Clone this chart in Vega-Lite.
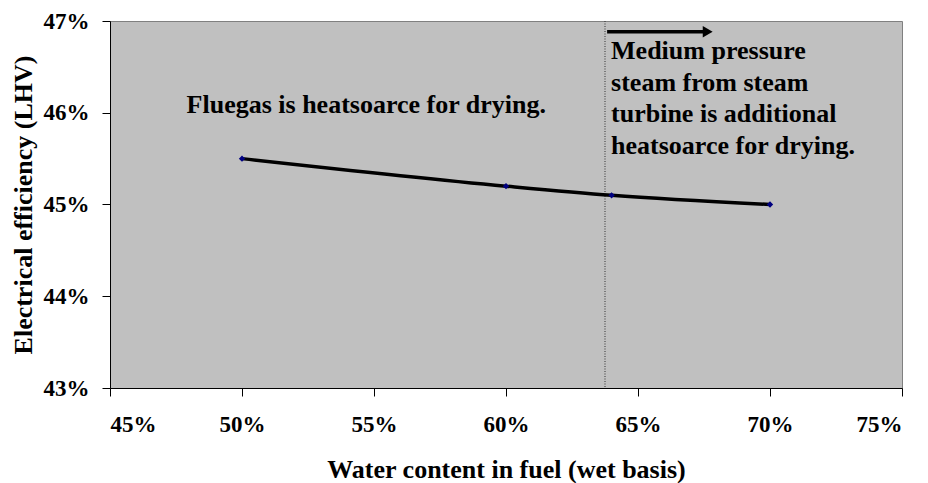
{
  "$schema": "https://vega.github.io/schema/vega-lite/v6.json",
  "width": 792,
  "height": 367,
  "autosize": {"type": "none"},
  "padding": {"left": 110, "top": 21, "right": 26, "bottom": 95},
  "background": "white",
  "config": {
    "view": {"fill": "#C0C0C0", "stroke": "#808080", "strokeWidth": 1},
    "font": "Liberation Serif",
    "axis": {
      "labelFont": "Liberation Serif",
      "labelFontWeight": "bold",
      "labelFontSize": 23,
      "labelColor": "black",
      "titleFont": "Liberation Serif",
      "titleFontWeight": "bold",
      "titleFontSize": 26,
      "titleColor": "black",
      "domainColor": "black",
      "domainWidth": 1,
      "tickColor": "black",
      "tickSize": 8,
      "grid": false
    }
  },
  "datasets": {
    "curve": [
      {"water": 0.50, "eff": 0.455},
      {"water": 0.60, "eff": 0.452},
      {"water": 0.64, "eff": 0.451},
      {"water": 0.70, "eff": 0.450}
    ],
    "notes": [
      {"x": 0.4790, "y": 0.45994, "label": "Fluegas is heatsoarce for drying."},
      {"x": 0.6398, "y": 0.465826, "label": "Medium pressure"},
      {"x": 0.6398, "y": 0.462392, "label": "steam from steam"},
      {"x": 0.6398, "y": 0.458948, "label": "turbine is additional"},
      {"x": 0.6398, "y": 0.455504, "label": "heatsoarce for drying."}
    ],
    "divider": [{"x": 0.6375}],
    "arrow": [{"x": 0.6383, "x2": 0.675, "y": 0.46883, "tip": 0.6764}]
  },
  "layer": [
    {
      "data": {"name": "divider"},
      "mark": {"type": "rule", "color": "#303030", "strokeWidth": 1, "strokeDash": [1, 1.5]},
      "encoding": {
        "x": {"field": "x", "type": "quantitative", "scale": {"domain": [0.45, 0.75]}}
      }
    },
    {
      "data": {"name": "curve"},
      "mark": {"type": "line", "color": "black", "strokeWidth": 3.5, "interpolate": "monotone"},
      "encoding": {
        "x": {"field": "water", "type": "quantitative", "scale": {"domain": [0.45, 0.75], "nice": false},
          "axis": {"format": ".0%", "values": [0.45, 0.5, 0.55, 0.6, 0.65, 0.7, 0.75], "labelPadding": 17, "titlePadding": 20},
          "title": "Water content in fuel (wet basis)"},
        "y": {"field": "eff", "type": "quantitative", "scale": {"domain": [0.43, 0.47], "nice": false, "zero": false},
          "axis": {"format": ".0%", "values": [0.43, 0.44, 0.45, 0.46, 0.47], "labelPadding": 13, "titlePadding": 7},
          "title": "Electrical efficiency (LHV)"}
      }
    },
    {
      "data": {"name": "curve"},
      "mark": {"type": "point", "shape": "diamond", "filled": true, "color": "#000080", "size": 40, "opacity": 1},
      "encoding": {
        "x": {"field": "water", "type": "quantitative"},
        "y": {"field": "eff", "type": "quantitative"}
      }
    },
    {
      "data": {"name": "arrow"},
      "mark": {"type": "rule", "color": "black", "strokeWidth": 3.5},
      "encoding": {
        "x": {"field": "x", "type": "quantitative"},
        "x2": {"field": "x2"},
        "y": {"field": "y", "type": "quantitative"}
      }
    },
    {
      "data": {"name": "arrow"},
      "mark": {"type": "point", "shape": "triangle-right", "filled": true, "color": "black", "size": 130, "opacity": 1},
      "encoding": {
        "x": {"field": "tip", "type": "quantitative"},
        "y": {"field": "y", "type": "quantitative"}
      }
    },
    {
      "data": {"name": "notes"},
      "mark": {"type": "text", "align": "left", "baseline": "alphabetic", "font": "Liberation Serif", "fontWeight": "bold", "fontSize": 26, "color": "black"},
      "encoding": {
        "x": {"field": "x", "type": "quantitative"},
        "y": {"field": "y", "type": "quantitative"},
        "text": {"field": "label"}
      }
    }
  ]
}
